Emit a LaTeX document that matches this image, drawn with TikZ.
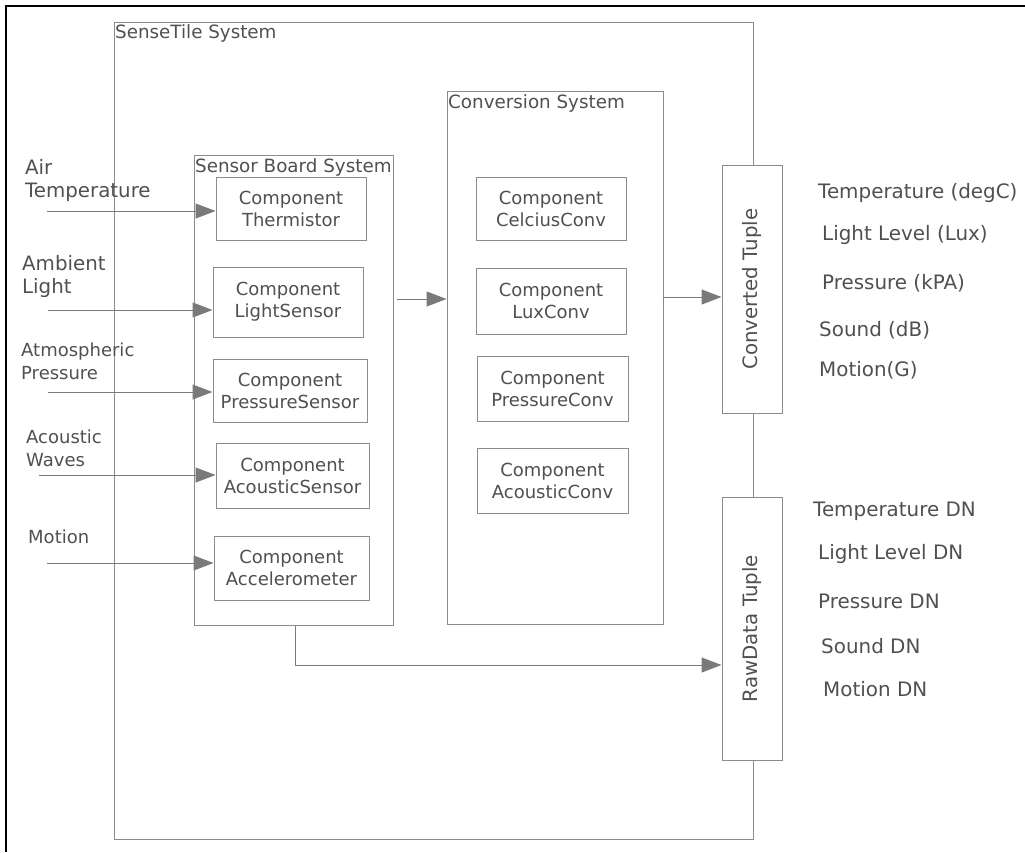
\documentclass[tikz,border=0pt]{standalone}
\usepackage{fontspec}
\setmainfont{DejaVu Sans}
\usetikzlibrary{arrows.meta}
\definecolor{txt}{HTML}{505050}
\definecolor{edge}{HTML}{8C8C8C}
\definecolor{wire}{HTML}{7A7A7A}
\begin{document}
\begin{tikzpicture}[x=1pt,y=-1pt,
  every node/.style={text=txt,font=\fontsize{18}{22}\selectfont},
  container/.style={draw=edge,line width=1pt,fill=white},
  title/.style={anchor=north west,inner sep=1pt,font=\fontsize{18.3}{22}\selectfont},
  comp/.style={draw=edge,line width=1pt,fill=white,align=center,inner sep=0pt,font=\fontsize{18}{22}\selectfont},
  tuple/.style={draw=edge,line width=1pt,fill=white,inner sep=0pt},
  tupletext/.style={rotate=90,font=\fontsize{19.8}{22}\selectfont},
  inlabel/.style={anchor=west,align=left,inner sep=0pt,font=\fontsize{18}{23}\selectfont},
  biglabel/.style={inlabel,font=\fontsize{19.8}{23}\selectfont},
  outlabel/.style={anchor=west,inner sep=0pt,font=\fontsize{19.9}{23}\selectfont},
  flow/.style={draw=wire,line width=1pt,-{Triangle[length=20pt,width=15pt]}}]
\useasboundingbox (0,0) rectangle (1025,852);
% outer frame (top and left edges)
\draw[black,line width=1.2pt] (6,852) -- (6,6) -- (1025,6);

% SenseTile system enclosure
\draw[container] (114,22) rectangle (753,839);
\node[title] (stitle) at (114,23) {SenseTile System};

% sensor board and conversion system
\node[container,minimum width=199pt,minimum height=470pt,inner sep=0pt] (sb) at (293.5,390) {};
\node[title] (sbtitle) at (194,157) {Sensor Board System};
\node[container,minimum width=216pt,minimum height=533pt,inner sep=0pt] (conv) at (555,357.5) {};
\node[title] (convtitle) at (447,93) {Conversion System};

% sensor components
\node[comp,minimum width=150pt,minimum height=63pt] (therm) at (291,208.5) {Component\\Thermistor};
\node[comp,minimum width=150pt,minimum height=70pt] (light) at (288,302) {Component\\LightSensor};
\node[comp,minimum width=154pt,minimum height=63pt] (press) at (290,390.5) {Component\\PressureSensor};
\node[comp,minimum width=153pt,minimum height=65pt] (acou) at (292.5,475.5) {Component\\AcousticSensor};
\node[comp,minimum width=155pt,minimum height=64pt] (accel) at (291.5,568) {Component\\Accelerometer};

% conversion components
\node[comp,minimum width=150pt,minimum height=63pt] (celc) at (551,208.5) {Component\\CelciusConv};
\node[comp,minimum width=150pt,minimum height=66pt] (lux) at (551,301) {Component\\LuxConv};
\node[comp,minimum width=151pt,minimum height=65pt] (pconv) at (552.5,388.5) {Component\\PressureConv};
\node[comp,minimum width=151pt,minimum height=65pt] (aconv) at (552.5,480.5) {Component\\AcousticConv};

% output tuples on the enclosure edge
\node[tuple,minimum width=60pt,minimum height=248pt] (ctup) at (752,289) {};
\node[tupletext] (ctuptext) at (ctup.center) {Converted Tuple};
\node[tuple,minimum width=60pt,minimum height=263pt] (rtup) at (752,628.5) {};
\node[tupletext] (rtuptext) at (rtup.center) {RawData Tuple};

% physical inputs
\node[biglabel] (lair) at (25,181) {Air\\Temperature};
\node[biglabel] (lamb) at (22,276.5) {Ambient\\Light};
\node[inlabel] (latm) at (21,361.5) {Atmospheric\\Pressure};
\node[inlabel] (laco) at (26,448.5) {Acoustic\\Waves};
\node[inlabel] (lmot) at (28,537) {Motion};

\coordinate (iair) at (47,211);
\coordinate (iamb) at (48,310);
\coordinate (iatm) at (48,392);
\coordinate (iaco) at (39,475);
\coordinate (imot) at (47,563);
\draw[flow] (iair) -- (iair -| therm.west);
\draw[flow] (iamb) -- (iamb -| light.west);
\draw[flow] (iatm) -- (iatm -| press.west);
\draw[flow] (iaco) -- (iaco -| acou.west);
\draw[flow] (imot) -- (imot -| accel.west);

% internal data flow
\coordinate (sbout) at (397,299);
\draw[flow] (sbout) -- (sbout -| conv.west);
\coordinate (convout) at (663,297);
\draw[flow] (convout) -- (convout -| ctup.west);
\coordinate (rawturn) at (295,665);
\draw[flow] (sb.south -| rawturn) -- (rawturn) -- (rawturn -| rtup.west);

% converted values
\node[outlabel] (ot1) at (818,193) {Temperature (degC)};
\node[outlabel] (ot2) at (822,235) {Light Level (Lux)};
\node[outlabel] (ot3) at (822,283) {Pressure (kPA)};
\node[outlabel] (ot4) at (819,330) {Sound (dB)};
\node[outlabel] (ot5) at (819,370) {Motion(G)};

% raw values
\node[outlabel] (or1) at (813,511) {Temperature DN};
\node[outlabel] (or2) at (818,554) {Light Level DN};
\node[outlabel] (or3) at (818,601) {Pressure DN};
\node[outlabel] (or4) at (821,646) {Sound DN};
\node[outlabel] (or5) at (823,689) {Motion DN};
\end{tikzpicture}
\end{document}
